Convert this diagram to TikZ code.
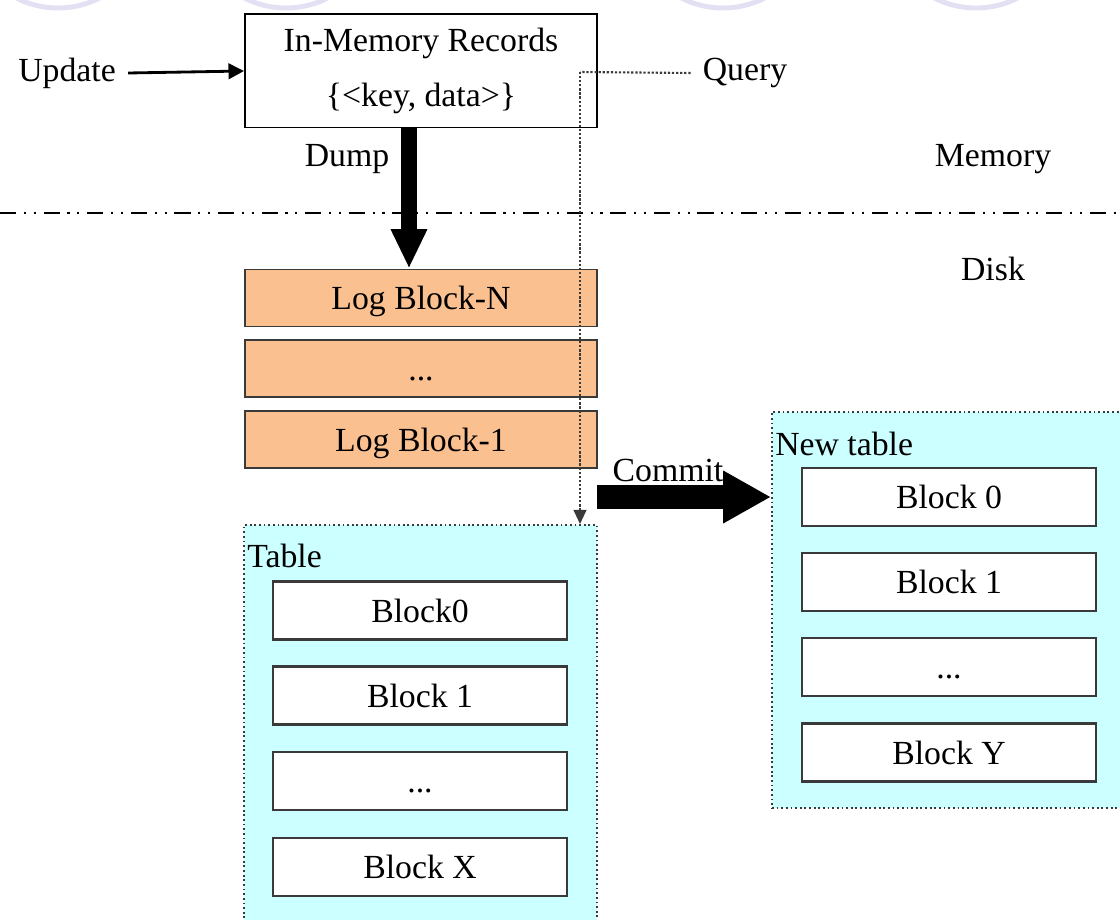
\documentclass[tikz,border=0pt]{standalone}
\usepackage{fontspec}
\setmainfont{Liberation Serif}
\usetikzlibrary{arrows.meta}
\definecolor{LsmOrange}{HTML}{FAC090}
\definecolor{LsmCyan}{HTML}{CCFFFF}
\definecolor{LsmRing}{HTML}{E3E0F3}
\definecolor{LsmEdge}{HTML}{3A3A3A}

\tikzset{
  lsmtext/.style={font=\fontsize{24pt}{28pt}\selectfont, inner sep=0pt},
  membox/.style={lsmtext, font=\fontsize{24pt}{39pt}\selectfont, draw, line width=1.4pt,
    minimum width=8.8cm, minimum height=2.825cm, align=center},
  logbox/.style={lsmtext, text height=16.5pt, text depth=0pt, draw=LsmEdge, line width=1.4pt,
    fill=LsmOrange, minimum width=8.8cm, minimum height=1.425cm},
  blockbox/.style={lsmtext, text height=16.5pt, text depth=0pt, draw=LsmEdge, line width=1.7pt,
    fill=white, minimum width=7.35cm, minimum height=1.45cm},
  tablebox/.style={draw=LsmEdge, dotted, line width=1.3pt, fill=LsmCyan, inner sep=0pt},
  fatarrow/.style={line width=#1},
  queryline/.style={LsmEdge, line width=1.5pt, dash pattern=on 1.6pt off 1.3pt},
  layerline/.style={line width=2pt, dash pattern=on 11.5pt off 5.5pt on 1.5pt off 5.5pt on 1.5pt off 5.5pt}
}

\begin{document}
\begin{tikzpicture}[x=0.025cm,y=-0.025cm]
        \useasboundingbox (0,0) rectangle (1120,920);
        % faint rings at the top edge
        \foreach \cx in {58,286,723,976} {
          \draw[LsmRing, line width=3.5pt] (\cx,-84) circle (92);
        }
        % memory part
        \node[membox] (mem) at (421,71) {In-Memory Records\\\{<key, data>\}};
        \node[lsmtext] (update) at (67,73) {Update};
        \node[lsmtext] (query) at (745,73) {Query};
        \node[lsmtext] (dump) at (347,159) {Dump};
        \node[lsmtext] (memory) at (993,159) {Memory};
        \node[lsmtext] (disk) at (993,269) {Disk};
        \draw[layerline] (0,213) -- (1120,213);
        % disk part
        \node[logbox] (logN) at (421,298) {Log Block-N};
        \node[logbox] (logdots) at (421,368.5) {...};
        \node[logbox] (logone) at (421,439.5) {Log Block-1};
        \node[tablebox, minimum width=8.825cm, minimum height=10.375cm] (table) at (420.5,732.5) {};
        \node[lsmtext, anchor=west] (tablelbl) at (247,556) {Table};
        \node[blockbox] (tblock0) at (420,610.5) {Block0};
        \node[blockbox] (tblock1) at (420,695.5) {Block 1};
        \node[blockbox] (tblockdots) at (420,781) {...};
        \node[blockbox] (tblockx) at (420,867) {Block X};
        \node[tablebox, minimum width=8.95cm, minimum height=9.9cm] (newtab) at (951,610) {};
        \node[lsmtext, anchor=west] (newtablbl) at (775,444) {New table};
        \node[blockbox] (nblock0) at (949,497) {Block 0};
        \node[blockbox] (nblock1) at (949,582) {Block 1};
        \node[blockbox] (nblockdots) at (949,667) {...};
        \node[blockbox] (nblocky) at (949,752.5) {Block Y};
        \node[lsmtext] (commit) at (668,470) {Commit};
        % connectors
        \coordinate (qcorner) at (580,72);
        \coordinate (cstart) at (597,497);
        \draw[line width=2pt, -{Triangle[length=11pt,width=11pt]}] ([xshift=0.3cm]update.east) -- (mem.west);
        \draw[queryline] ([xshift=-0.3cm]query.west) -- (qcorner);
        \draw[queryline, -{Triangle[length=10pt,width=9pt]}] (qcorner) -- (table.north -| qcorner);
        \draw[fatarrow=11.3pt, -{Triangle[length=28pt,width=24pt]}] ([xshift=-0.3cm]mem.south) -- ([xshift=-0.3cm]logN.north);
        \draw[fatarrow=17.7pt, -{Triangle[length=34pt,width=35pt]}] (cstart) -- (newtab.west |- cstart);
      \end{tikzpicture}
\end{document}
